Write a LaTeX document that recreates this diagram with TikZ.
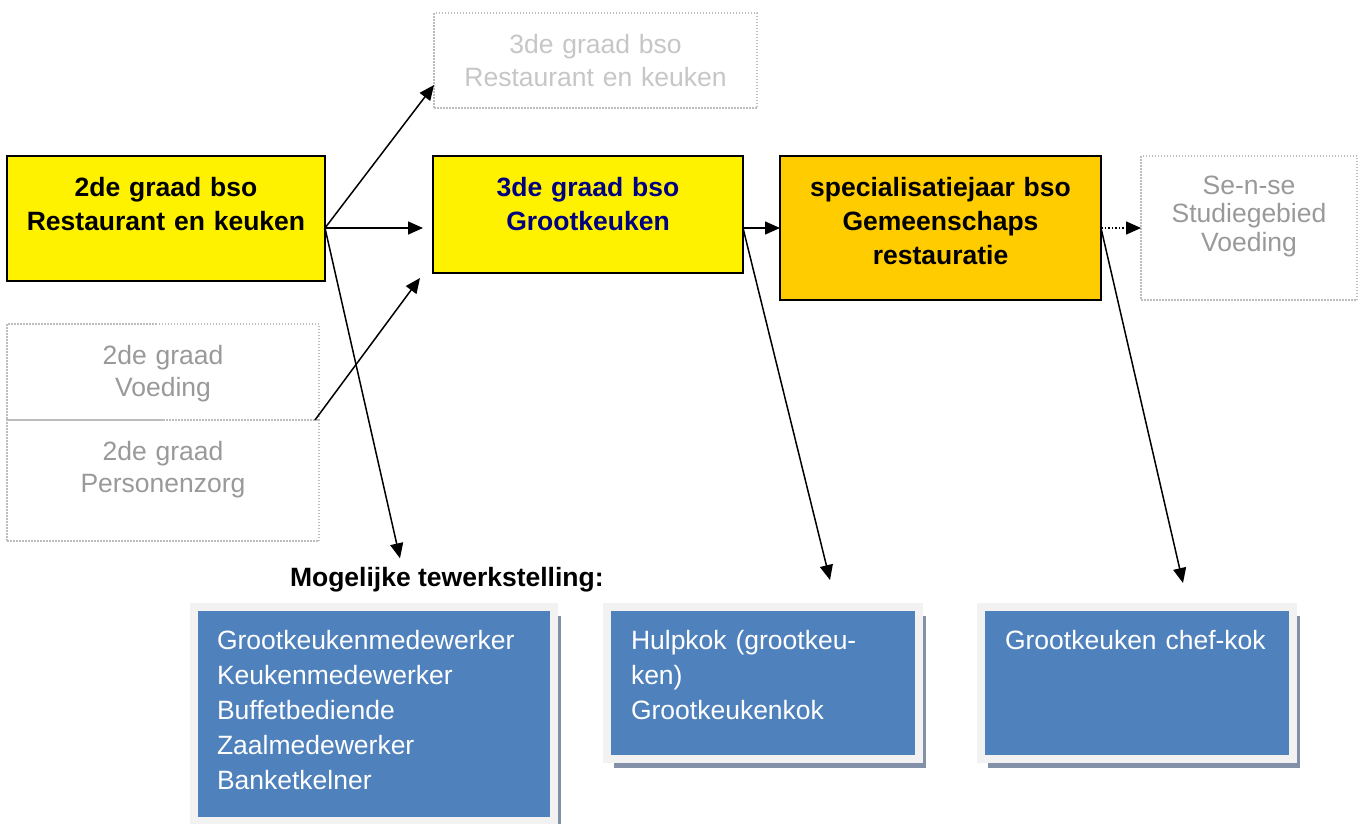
\documentclass[tikz,border=0pt]{standalone}
\usepackage{fontspec}
\setmainfont{Liberation Sans}
\usetikzlibrary{arrows.meta,shadows}
\definecolor{jobblue}{HTML}{4F81BD}
\definecolor{jobframe}{HTML}{F2F2F2}
\definecolor{jobshadow}{HTML}{8291A8}
\definecolor{specorange}{HTML}{FFCC00}
\definecolor{otherline}{HTML}{BDBDBD}
\definecolor{othertext}{HTML}{999999}
\definecolor{fainttext}{HTML}{C6C6C6}

\begin{document}
\begin{tikzpicture}
    [x=1pt, y=-1pt,
    every node/.style={inner sep=0pt, outer sep=0pt, anchor=north west, font=\fontsize{26.5}{34}\selectfont},
    route/.style={draw, line width=2pt, font=\fontsize{26.5}{34}\selectfont\bfseries, align=center, text height=40.5pt},
    other/.style={draw=otherline, line width=1.5pt, dash pattern=on 1.5pt off 1.5pt, text=othertext, align=center, text height=40.5pt, font=\fontsize{26.5}{31.5}\selectfont},
    job/.style={draw=jobframe, line width=8pt, fill=jobblue, text=white, align=left, inner xsep=23pt, text height=42pt, font=\fontsize{26.5}{35}\selectfont, general shadow={fill=jobshadow, shadow xshift=7pt, shadow yshift=-9pt}},
    link/.style={-{Triangle[length=15pt,width=13pt]}, line width=1.5pt}
    ]
    \useasboundingbox (0,0) rectangle (1363,823);

    \node (rk2) [route, fill=yellow, text width=318pt, text depth=84.5pt] at (7,156) {2de graad bso\\Restaurant en keuken};
    \node (gk3) [route, fill=yellow, text=blue!50!black, text width=310pt, text depth=76.5pt] at (433,156) {3de graad bso\\Grootkeuken};
    \node (spec) [route, fill=specorange, text width=321pt, text depth=103.5pt] at (780,156) {specialisatiejaar bso\\Gemeenschaps\\restauratie};
    \node (sense) [other, text width=216pt, text height=38pt, text depth=106pt, font=\fontsize{26.5}{28.5}\selectfont] at (1141,156) {Se-n-se\\Studiegebied\\Voeding};
    \node (rk3) [other, text=fainttext, text width=323pt, text depth=54.5pt, font=\fontsize{26.5}{33}\selectfont] at (434,13) {3de graad bso\\Restaurant en keuken};
    \node (voed) [other, text width=312pt, text depth=55.5pt] at (7,324) {2de graad\\Voeding};
    \node (pers) [other, text width=312pt, text depth=80.5pt] at (7,420) {2de graad\\Personenzorg};
    \node (mog) [anchor=base west, font=\fontsize{26.5}{34}\selectfont\bfseries] at (290,586.5) {Mogelijke tewerkstelling:};
    \node (job1) [job, text width=314pt, text depth=172pt] at (194,607) {Grootkeukenmedewerker\\Keukenmedewerker\\Buffetbediende\\Zaalmedewerker\\Banketkelner};
    \node (job2) [job, inner xsep=24pt, text width=264pt, text depth=110pt] at (607,607) {Hulpkok (grootkeu-\\ken)\\Grootkeukenkok};
    \node (job3) [job, inner xsep=24pt, text width=264pt, text depth=110pt] at (981,607) {Grootkeuken chef-kok};

    \coordinate (split) at ([yshift=-9.5pt]rk2.east);
    \draw [link] (split) -- ([yshift=23pt]rk3.south west);
    \draw [link, shorten >=10pt] (split) -- ([yshift=-13.5pt]gk3.west);
    \draw [link] (split) -- ([xshift=110pt,yshift=9pt]mog.north west);
    \draw [link] ([xshift=-4pt]pers.north east) -- ([xshift=-13pt,yshift=-5pt]gk3.south west);
    \draw [link] ([yshift=-13.5pt]gk3.east) -- (spec.west);
    \draw [link] ([yshift=-13.5pt]gk3.east) -- ([xshift=67pt,yshift=27pt]job2.north);
    \draw [link, dotted] (spec.east) -- (sense.west);
    \draw [link] (spec.east) -- ([xshift=46pt,yshift=24pt]job3.north);
\end{tikzpicture}
\end{document}
